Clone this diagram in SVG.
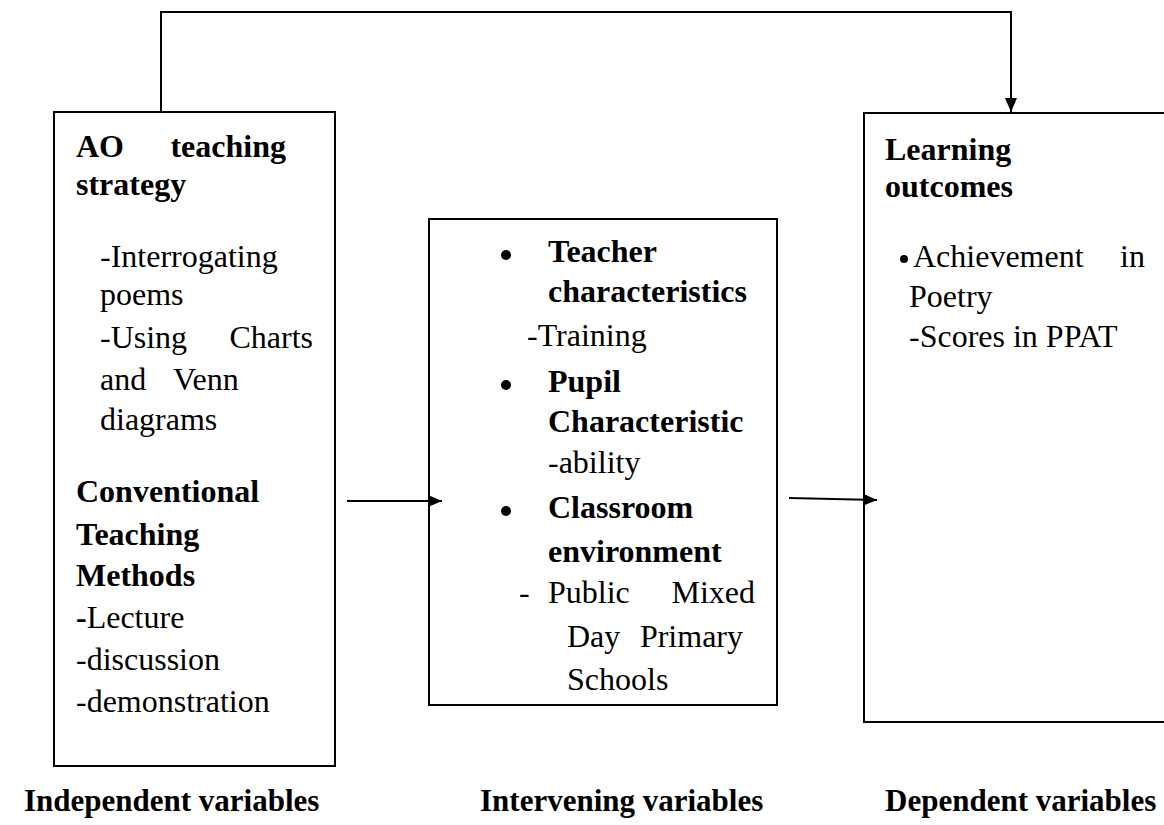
<svg xmlns="http://www.w3.org/2000/svg" width="1164" height="825" viewBox="0 0 1164 825">
  <style>
    .box { fill: #ffffff; stroke: #000000; stroke-width: 2; }
    .wire { fill: none; stroke: #000000; stroke-width: 2; }
    text { font-family: "Liberation Serif", "Times New Roman", serif; font-size: 32px; fill: #000000; }
    .b { font-weight: bold; }
    .cap { font-size: 31px; }
    .dot { fill: #000000; }
  </style>
  <defs>
    <marker id="head" viewBox="0 0 14 12" refX="14" refY="6" markerWidth="14" markerHeight="12" markerUnits="userSpaceOnUse" orient="auto">
      <path d="M0,0 L14,6 L0,12 Z" fill="#000000"/>
    </marker>
  </defs>
  <rect width="1164" height="825" fill="#ffffff"/>

  <!-- independent variables -->
  <g id="independent">
    <rect class="box" x="54" y="112" width="281" height="654"/>
    <text class="b" x="76" y="157">AO</text>
    <text class="b" x="286" y="157" text-anchor="end">teaching</text>
    <text class="b" x="76" y="195">strategy</text>
    <text x="100" y="267">-Interrogating</text>
    <text x="100" y="305">poems</text>
    <text x="100" y="348">-Using</text>
    <text x="313" y="348" text-anchor="end">Charts</text>
    <text x="100" y="390">and</text>
    <text x="173" y="390">Venn</text>
    <text x="100" y="430">diagrams</text>
    <text class="b" x="76" y="502">Conventional</text>
    <text class="b" x="76" y="545">Teaching</text>
    <text class="b" x="76" y="586">Methods</text>
    <text x="76" y="628"><tspan class="b">-</tspan>Lecture</text>
    <text x="76" y="670">-discussion</text>
    <text x="76" y="712">-demonstration</text>
  </g>

  <!-- intervening variables -->
  <g id="intervening">
    <rect class="box" x="429" y="219" width="348" height="486"/>
    <circle class="dot" cx="506" cy="255" r="5"/>
    <text class="b" x="548" y="262">Teacher</text>
    <text class="b" x="548" y="302">characteristics</text>
    <text x="527" y="346">-Training</text>
    <circle class="dot" cx="506" cy="385" r="5"/>
    <text class="b" x="548" y="392">Pupil</text>
    <text class="b" x="548" y="432">Characteristic</text>
    <text x="548" y="473">-ability</text>
    <circle class="dot" cx="506" cy="511" r="5"/>
    <text class="b" x="548" y="518">Classroom</text>
    <text class="b" x="548" y="562">environment</text>
    <text x="519" y="603">-</text>
    <text x="548" y="603">Public</text>
    <text x="755" y="603" text-anchor="end">Mixed</text>
    <text x="567" y="647">Day</text>
    <text x="743" y="647" text-anchor="end">Primary</text>
    <text x="567" y="690">Schools</text>
  </g>

  <!-- dependent variables -->
  <g id="dependent">
    <rect class="box" x="864" y="113" width="320" height="609"/>
    <text class="b" x="885" y="160">Learning</text>
    <text class="b" x="885" y="197">outcomes</text>
    <circle class="dot" cx="904" cy="259" r="4"/>
    <text x="913" y="267">Achievement</text>
    <text x="1145" y="267" text-anchor="end">in</text>
    <text x="909" y="307">Poetry</text>
    <text x="909" y="347">-Scores in PPAT</text>
  </g>

  <!-- connectors, drawn over the box borders so the heads stay visible -->
  <g id="connectors">
    <polyline class="wire" points="161,112 161,12 1011,12 1011,112" marker-end="url(#head)"/>
    <line class="wire" x1="347" y1="501" x2="442" y2="501" marker-end="url(#head)"/>
    <line class="wire" x1="789" y1="498" x2="877" y2="500" marker-end="url(#head)"/>
  </g>

  <!-- column captions -->
  <g id="captions">
    <text class="b cap" x="24" y="811">Independent variables</text>
    <text class="b cap" x="480" y="811">Intervening variables</text>
    <text class="b cap" x="885" y="811">Dependent variables</text>
  </g>
</svg>
